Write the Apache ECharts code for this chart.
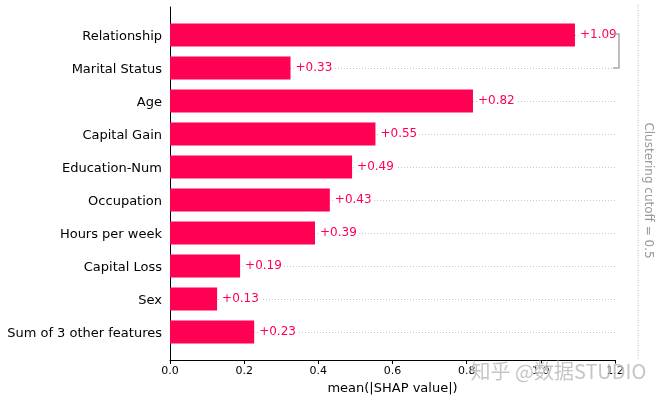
<!DOCTYPE html>
<html><head><meta charset="utf-8">
<script src="https://cdn.jsdelivr.net/npm/echarts@6/dist/echarts.min.js"></script>
<style>html,body{margin:0;padding:0;background:#fff}#c{width:661px;height:401px}</style>
</head><body><div id="c"></div>
<script>
const features = ['Relationship','Marital Status','Age','Capital Gain','Education-Num','Occupation','Hours per week','Capital Loss','Sex','Sum of 3 other features'];
const shapValues = [1.092, 0.325, 0.817, 0.554, 0.491, 0.431, 0.391, 0.189, 0.127, 0.227];
const xTicks = [0.0, 0.2, 0.4, 0.6, 0.8, 1.0, 1.2];
const clusterPairs = [['Relationship','Marital Status']];
const cutoffText = 'Clustering cutoff = 0.5';
const red = '#ff0052';
const font = 'DejaVu Sans';

const chart = echarts.init(document.getElementById('c'), null, {renderer:'canvas'});
chart.setOption({
  animation:false,
  grid:[
    {left:170, right:46, top:18.5, height:330},
    {left:170, right:46, top:7, bottom:41}
  ],
  xAxis:[
    {gridIndex:0, type:'value', min:0, max:1.2, show:false},
    {gridIndex:1, type:'value', min:xTicks[0], max:xTicks[xTicks.length-1], interval:0.2,
     axisLine:{show:true, lineStyle:{color:'#000', width:1}},
     axisTick:{show:true, inside:false, length:4, lineStyle:{color:'#000'}},
     axisLabel:{color:'#000', fontFamily:font, fontSize:11, margin:6, formatter:v=>v.toFixed(1)},
     splitLine:{show:false},
     name:'mean(|SHAP value|)', nameLocation:'middle', nameGap:21,
     nameTextStyle:{color:'#000', fontFamily:font, fontSize:13}}
  ],
  yAxis:[
    {gridIndex:0, type:'category', data:features, inverse:true,
     axisLine:{show:false}, axisTick:{show:false},
     axisLabel:{color:'#000', fontFamily:font, fontSize:13, margin:8,
       formatter:v=>'{t|'+v+'}', rich:{t:{fontFamily:font, fontSize:13, color:'#000', padding:[3,0,0,0]}}}},
    {gridIndex:1, type:'value', min:0, max:1,
     axisLine:{show:true, lineStyle:{color:'#000', width:1}},
     axisTick:{show:false}, axisLabel:{show:false}, splitLine:{show:false}}
  ],
  series:[
    {type:'bar', xAxisIndex:0, yAxisIndex:0, data:shapValues, barWidth:23, z:3,
     itemStyle:{color:red},
     label:{show:true, position:'right', distance:4, color:red, fontFamily:font, fontSize:12,
       backgroundColor:'#fff', padding:[2,2,0,1],
       formatter:p=>'+'+p.value.toFixed(2)},
     markLine:{silent:true, symbol:'none', z:1, label:{show:false},
       lineStyle:{color:'#bbb', type:[1,2], width:0.8},
       data:features.map(f=>({yAxis:f}))}
    },
    {type:'custom', xAxisIndex:0, yAxisIndex:0, clip:false, z:4,
     data:clusterPairs.map(p=>[features.indexOf(p[0]), features.indexOf(p[1])]),
     renderItem:(params, api)=>{
       const a = api.coord([1.2, api.value(0)]);
       const b = api.coord([1.2, api.value(1)]);
       const x0 = a[0]-2, x1 = a[0]+4;
       return {type:'polyline', shape:{points:[[x0,a[1]-1],[x1,a[1]-1],[x1,b[1]],[x0,b[1]]]},
         style:{stroke:'#aaa', lineWidth:1.5, fill:null}};
     }},
    {type:'custom', xAxisIndex:1, yAxisIndex:1, clip:false, z:1,
     data:[[1.262]],
     renderItem:(params, api)=>{
       const top = api.coord([api.value(0), 1]);
       const bot = api.coord([api.value(0), 0]);
       return {type:'group', children:[
         {type:'line', shape:{x1:top[0], y1:top[1]-2, x2:bot[0], y2:bot[1]},
          style:{stroke:'#bbb', lineWidth:1, lineDash:[1,1.5]}},
         {type:'text', x:top[0]+10, y:(top[1]+bot[1])/2+7, rotation:-Math.PI/2,
          style:{text:cutoffText, fill:'#999', font:'12px "DejaVu Sans"', align:'center', verticalAlign:'middle'}}
       ]};
     }}
  ],
  graphic:[
    {type:'text', left:470, top:361, z:100,
     style:{text:'知乎 @数据STUDIO', font:'20px "Noto Sans CJK SC"', fill:'rgba(150,150,150,0.55)', stroke:'rgba(255,255,255,0.8)', lineWidth:1}}
  ]
});
</script></body></html>
